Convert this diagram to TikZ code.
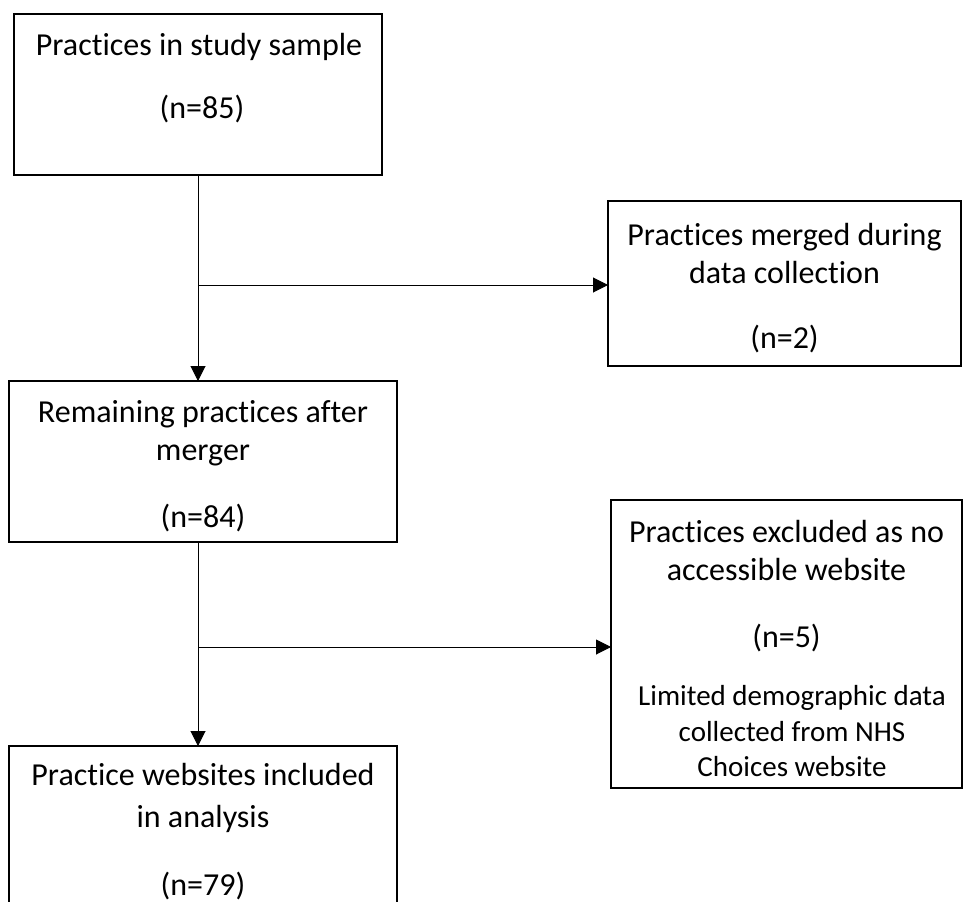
\documentclass[tikz,border=0pt]{standalone}
\usepackage{fontspec}
\setmainfont{Carlito}[Ligatures=NoCommon]
\usetikzlibrary{arrows.meta}
\begin{document}
\begin{tikzpicture}[x=1pt,y=-1pt,
  box/.style={draw, line width=1.6pt, inner sep=0pt, outer sep=0pt},
  txt/.style={anchor=base, inner sep=0pt, font=\fontsize{32}{38}\selectfont},
  stxt/.style={anchor=base, inner sep=0pt, font=\fontsize{29}{36}\selectfont},
  conn/.style={line width=1pt, -{Triangle[length=15pt,width=15pt]}}]
\useasboundingbox (0,0) rectangle (964,902);

% boxes
\node[box, minimum width=368pt, minimum height=161pt] (b1) at (198,94.5) {};
\node[box, minimum width=353pt, minimum height=165pt] (b2) at (784.5,283.5) {};
\node[box, minimum width=388pt, minimum height=161pt] (b3) at (203,461.5) {};
\node[box, minimum width=351pt, minimum height=288pt] (b4) at (786.5,644) {};
\node[box, minimum width=388pt, minimum height=170pt] (b5) at (203,831) {};

% texts
\node[txt] (t1a) at (199,55) {Practices in study sample};
\node[txt] (t1b) at (202,118) {(n=85)};

\node[txt] (t2a) at (784.5,245) {Practices merged during};
\node[txt] (t2b) at (784.5,283) {data collection};
\node[txt] (t2c) at (784.5,348) {(n=2)};

\node[txt] (t3a) at (203,422) {Remaining practices after};
\node[txt] (t3b) at (203,460) {merger};
\node[txt] (t3c) at (203,527) {(n=84)};

\node[txt] (t4a) at (786.5,542) {Practices excluded as no};
\node[txt] (t4b) at (786.5,580) {accessible website};
\node[txt] (t4c) at (786.5,647) {(n=5)};
\node[stxt] (t4d) at (792,705) {Limited demographic data};
\node[stxt] (t4e) at (792,741) {collected from NHS};
\node[stxt] (t4f) at (792,776) {Choices website};

\node[txt] (t5a) at (203,785) {Practice websites included};
\node[txt] (t5b) at (203,827) {in analysis};
\node[txt] (t5c) at (203,895) {(n=79)};

% connectors
\coordinate (j1) at (198,285);
\coordinate (j2) at (198,647);
\draw[conn] (b1.south) -- (b1.south |- b3.north);
\draw[conn] (j1) -- (j1 -| b2.west);
\draw[conn] (b1.south |- b3.south) -- (b1.south |- b5.north);
\draw[conn] (j2) -- (j2 -| b4.west);
\end{tikzpicture}
\end{document}
